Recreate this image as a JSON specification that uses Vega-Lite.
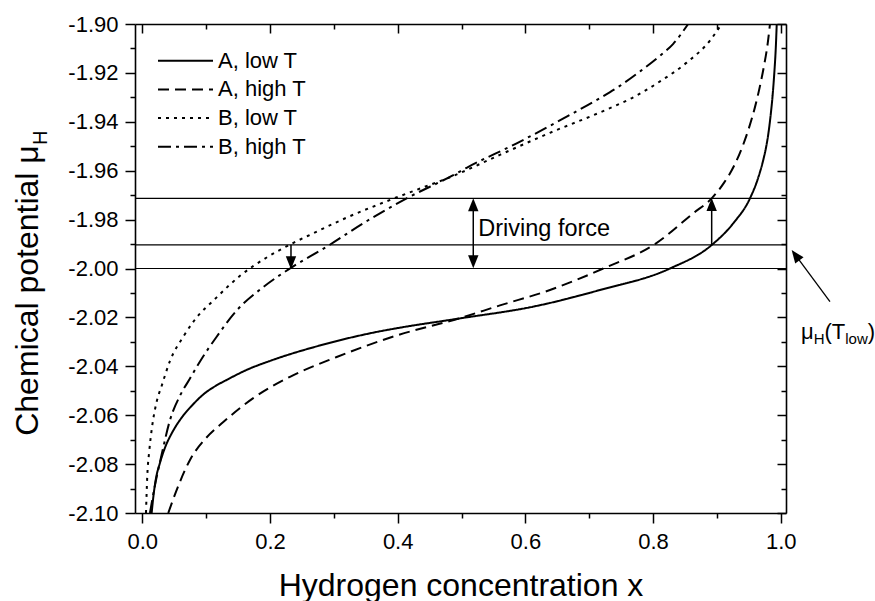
{
  "$schema": "https://vega.github.io/schema/vega-lite/v6.json",
  "autosize": {"type": "none"},
  "padding": {"left": 135, "top": 24, "right": 89, "bottom": 88},
  "width": 651,
  "height": 489,
  "background": "white",
  "config": {"view": {"stroke": null}, "font": "Liberation Sans"},
  "datasets": {
    "curves": [
      {"curve": "A, low T", "x": 0.0147, "mu": -2.1},
      {"curve": "A, low T", "x": 0.0175, "mu": -2.093},
      {"curve": "A, low T", "x": 0.021, "mu": -2.0865},
      {"curve": "A, low T", "x": 0.0277, "mu": -2.0795},
      {"curve": "A, low T", "x": 0.036, "mu": -2.073},
      {"curve": "A, low T", "x": 0.047, "mu": -2.067},
      {"curve": "A, low T", "x": 0.0617, "mu": -2.061},
      {"curve": "A, low T", "x": 0.078, "mu": -2.056},
      {"curve": "A, low T", "x": 0.0956, "mu": -2.0515},
      {"curve": "A, low T", "x": 0.115, "mu": -2.048},
      {"curve": "A, low T", "x": 0.132, "mu": -2.0456},
      {"curve": "A, low T", "x": 0.165, "mu": -2.0413},
      {"curve": "A, low T", "x": 0.2, "mu": -2.0378},
      {"curve": "A, low T", "x": 0.278, "mu": -2.0315},
      {"curve": "A, low T", "x": 0.372, "mu": -2.0257},
      {"curve": "A, low T", "x": 0.4036, "mu": -2.0242},
      {"curve": "A, low T", "x": 0.4976, "mu": -2.0204},
      {"curve": "A, low T", "x": 0.6124, "mu": -2.0156},
      {"curve": "A, low T", "x": 0.7168, "mu": -2.0088},
      {"curve": "A, low T", "x": 0.8265, "mu": -2.0},
      {"curve": "A, low T", "x": 0.8918, "mu": -1.9904},
      {"curve": "A, low T", "x": 0.9256, "mu": -1.9815},
      {"curve": "A, low T", "x": 0.9518, "mu": -1.9713},
      {"curve": "A, low T", "x": 0.9635, "mu": -1.9638},
      {"curve": "A, low T", "x": 0.9726, "mu": -1.9556},
      {"curve": "A, low T", "x": 0.9768, "mu": -1.9507},
      {"curve": "A, low T", "x": 0.9807, "mu": -1.9446},
      {"curve": "A, low T", "x": 0.9842, "mu": -1.9372},
      {"curve": "A, low T", "x": 0.9873, "mu": -1.929},
      {"curve": "A, low T", "x": 0.99, "mu": -1.9196},
      {"curve": "A, low T", "x": 0.9922, "mu": -1.9098},
      {"curve": "A, low T", "x": 0.9937, "mu": -1.9},
      {"curve": "A, high T", "x": 0.0407, "mu": -2.1},
      {"curve": "A, high T", "x": 0.0555, "mu": -2.0895},
      {"curve": "A, high T", "x": 0.0747, "mu": -2.0783},
      {"curve": "A, high T", "x": 0.1, "mu": -2.0693},
      {"curve": "A, high T", "x": 0.1269, "mu": -2.0628},
      {"curve": "A, high T", "x": 0.1738, "mu": -2.053},
      {"curve": "A, high T", "x": 0.2313, "mu": -2.0443},
      {"curve": "A, high T", "x": 0.3045, "mu": -2.0362},
      {"curve": "A, high T", "x": 0.3984, "mu": -2.0274},
      {"curve": "A, high T", "x": 0.4976, "mu": -2.0203},
      {"curve": "A, high T", "x": 0.5602, "mu": -2.0151},
      {"curve": "A, high T", "x": 0.6385, "mu": -2.0088},
      {"curve": "A, high T", "x": 0.722, "mu": -2.0},
      {"curve": "A, high T", "x": 0.803, "mu": -1.99},
      {"curve": "A, high T", "x": 0.863, "mu": -1.9774},
      {"curve": "A, high T", "x": 0.8918, "mu": -1.9713},
      {"curve": "A, high T", "x": 0.911, "mu": -1.965},
      {"curve": "A, high T", "x": 0.9267, "mu": -1.9581},
      {"curve": "A, high T", "x": 0.9392, "mu": -1.9507},
      {"curve": "A, high T", "x": 0.9502, "mu": -1.9425},
      {"curve": "A, high T", "x": 0.9596, "mu": -1.934},
      {"curve": "A, high T", "x": 0.9674, "mu": -1.9254},
      {"curve": "A, high T", "x": 0.9737, "mu": -1.9172},
      {"curve": "A, high T", "x": 0.9792, "mu": -1.9086},
      {"curve": "A, high T", "x": 0.9831, "mu": -1.9},
      {"curve": "B, low T", "x": 0.0058, "mu": -2.1},
      {"curve": "B, low T", "x": 0.0078, "mu": -2.085},
      {"curve": "B, low T", "x": 0.011, "mu": -2.0745},
      {"curve": "B, low T", "x": 0.0147, "mu": -2.066},
      {"curve": "B, low T", "x": 0.0225, "mu": -2.0545},
      {"curve": "B, low T", "x": 0.03, "mu": -2.0483},
      {"curve": "B, low T", "x": 0.0434, "mu": -2.0378},
      {"curve": "B, low T", "x": 0.0642, "mu": -2.0279},
      {"curve": "B, low T", "x": 0.0799, "mu": -2.0218},
      {"curve": "B, low T", "x": 0.1165, "mu": -2.0118},
      {"curve": "B, low T", "x": 0.153, "mu": -2.003},
      {"curve": "B, low T", "x": 0.1948, "mu": -1.9955},
      {"curve": "B, low T", "x": 0.233, "mu": -1.99},
      {"curve": "B, low T", "x": 0.2678, "mu": -1.9856},
      {"curve": "B, low T", "x": 0.32, "mu": -1.9792},
      {"curve": "B, low T", "x": 0.3827, "mu": -1.9725},
      {"curve": "B, low T", "x": 0.435, "mu": -1.9673},
      {"curve": "B, low T", "x": 0.4819, "mu": -1.9627},
      {"curve": "B, low T", "x": 0.5602, "mu": -1.9535},
      {"curve": "B, low T", "x": 0.6385, "mu": -1.9445},
      {"curve": "B, low T", "x": 0.7273, "mu": -1.935},
      {"curve": "B, low T", "x": 0.769, "mu": -1.93},
      {"curve": "B, low T", "x": 0.8108, "mu": -1.9235},
      {"curve": "B, low T", "x": 0.8526, "mu": -1.9158},
      {"curve": "B, low T", "x": 0.8891, "mu": -1.9068},
      {"curve": "B, low T", "x": 0.9074, "mu": -1.9},
      {"curve": "B, high T", "x": 0.012, "mu": -2.1},
      {"curve": "B, high T", "x": 0.02, "mu": -2.0885},
      {"curve": "B, high T", "x": 0.03, "mu": -2.0765},
      {"curve": "B, high T", "x": 0.0434, "mu": -2.062},
      {"curve": "B, high T", "x": 0.0591, "mu": -2.052},
      {"curve": "B, high T", "x": 0.0747, "mu": -2.045},
      {"curve": "B, high T", "x": 0.0904, "mu": -2.038},
      {"curve": "B, high T", "x": 0.1165, "mu": -2.0279},
      {"curve": "B, high T", "x": 0.1478, "mu": -2.0172},
      {"curve": "B, high T", "x": 0.1895, "mu": -2.0076},
      {"curve": "B, high T", "x": 0.2313, "mu": -2.0},
      {"curve": "B, high T", "x": 0.2888, "mu": -1.9911},
      {"curve": "B, high T", "x": 0.3461, "mu": -1.9815},
      {"curve": "B, high T", "x": 0.4141, "mu": -1.9713},
      {"curve": "B, high T", "x": 0.4871, "mu": -1.9618},
      {"curve": "B, high T", "x": 0.508, "mu": -1.9588},
      {"curve": "B, high T", "x": 0.5864, "mu": -1.9488},
      {"curve": "B, high T", "x": 0.6647, "mu": -1.9379},
      {"curve": "B, high T", "x": 0.7168, "mu": -1.9303},
      {"curve": "B, high T", "x": 0.748, "mu": -1.9253},
      {"curve": "B, high T", "x": 0.7795, "mu": -1.9194},
      {"curve": "B, high T", "x": 0.8108, "mu": -1.913},
      {"curve": "B, high T", "x": 0.8316, "mu": -1.9081},
      {"curve": "B, high T", "x": 0.855, "mu": -1.9}
    ],
    "levels": [{"mu": -1.9713}, {"mu": -1.9903}, {"mu": -2.0}],
    "shafts": [
      {"x": 0.5184, "mu": -1.974, "mu2": -1.9973},
      {"x": 0.8918, "mu": -1.9903, "mu2": -1.974},
      {"x": 0.2329, "mu": -1.9903, "mu2": -1.9975}
    ],
    "headsUp": [{"x": 0.5184, "mu": -1.97395}, {"x": 0.8918, "mu": -1.97382}],
    "headsDown": [{"x": 0.5184, "mu": -1.99726}, {"x": 0.2329, "mu": -1.99767}],
    "pointer": [{"x": 1.07706, "mu": -2.01358, "x2": 1.02313, "mu2": -1.99457}],
    "bigText": [
      {"t": "μ", "x": 1.0316, "mu": -2.0288},
      {"t": "(T", "x": 1.0684, "mu": -2.0288},
      {"t": ")", "x": 1.1363, "mu": -2.0288}
    ],
    "smallText": [
      {"t": "H", "x": 1.0515, "mu": -2.0309},
      {"t": "low", "x": 1.101, "mu": -2.0309}
    ],
    "label": [{"t": "Driving force", "x": 0.5262, "mu": -1.98671}],
    "ysub": [{"t": "H", "x": -0.1493, "mu": -1.9495}]
  },
  "layer": [
    {
      "data": {"name": "levels"},
      "mark": {"type": "rule", "color": "black", "strokeWidth": 1.2},
      "encoding": {
        "y": {
          "field": "mu", "type": "quantitative",
          "scale": {"domain": [-2.1, -1.9], "nice": false, "zero": false},
          "axis": {
            "orient": "right", "labels": false, "title": null, "grid": false,
            "values": [-2.1, -2.09, -2.08, -2.07, -2.06, -2.05, -2.04, -2.03, -2.02, -2.01, -2.0, -1.99, -1.98, -1.97, -1.96, -1.95, -1.94, -1.93, -1.92, -1.91, -1.9],
            "tickSize": {"condition": {"test": "abs(round(datum.value*100)) % 2 == 0", "value": -9}, "value": -5},
            "domainColor": "black", "domainWidth": 1.6, "tickColor": "black", "tickWidth": 1.5
          }
        }
      }
    },
    {
      "data": {"name": "curves"},
      "mark": {"type": "line", "color": "black", "strokeWidth": 2, "interpolate": "monotone", "clip": true},
      "encoding": {
        "x": {
          "field": "x", "type": "quantitative",
          "scale": {"domain": [-0.0114, 1.0082], "nice": false, "zero": false},
          "axis": {
            "orient": "bottom", "grid": false,
            "values": [0, 0.1, 0.2, 0.3, 0.4, 0.5, 0.6, 0.7, 0.8, 0.9, 1.0],
            "labelExpr": "round(datum.value*10) % 2 == 0 ? format(datum.value, '.1f') : ''",
            "tickSize": {"condition": {"test": "round(datum.value*10) % 2 == 0", "value": 10}, "value": 5},
            "labelFont": "Liberation Sans", "labelFontSize": 22, "labelColor": "black", "labelPadding": 8,
            "labelOverlap": false, "labelFlush": false, "labelBound": false,
            "domainColor": "black", "domainWidth": 1.6, "tickColor": "black", "tickWidth": 1.5,
            "title": "Hydrogen concentration x", "titleFont": "Liberation Sans", "titleFontSize": 32,
            "titleFontWeight": "normal", "titleColor": "black", "titlePadding": 18
          }
        },
        "y": {
          "field": "mu", "type": "quantitative",
          "axis": {
            "orient": "left", "grid": false,
            "values": [-2.1, -2.09, -2.08, -2.07, -2.06, -2.05, -2.04, -2.03, -2.02, -2.01, -2.0, -1.99, -1.98, -1.97, -1.96, -1.95, -1.94, -1.93, -1.92, -1.91, -1.9],
            "labelExpr": "abs(round(datum.value*100)) % 2 == 0 ? '-' + format(-datum.value, '.2f') : ''",
            "tickSize": {"condition": {"test": "abs(round(datum.value*100)) % 2 == 0", "value": 10}, "value": 5},
            "labelFont": "Liberation Sans", "labelFontSize": 22, "labelColor": "black", "labelPadding": 7,
            "labelOverlap": false, "labelFlush": false, "labelBound": false,
            "domainColor": "black", "domainWidth": 1.6, "tickColor": "black", "tickWidth": 1.5,
            "title": "Chemical potential μ", "titleFont": "Liberation Sans", "titleFontSize": 32,
            "titleFontWeight": "normal", "titleColor": "black", "titlePadding": 23, "titleY": 266
          }
        },
        "strokeDash": {
          "field": "curve", "type": "nominal",
          "scale": {
            "domain": ["A, low T", "A, high T", "B, low T", "B, high T"],
            "range": [[1, 0], [11, 6], [3, 5], [13, 5, 3, 5]]
          },
          "legend": {
            "orient": "none", "legendX": 39.5, "legendY": 25.7, "title": null, "padding": 0,
            "symbolType": "M-5,0L5,0", "symbolSize": 121, "symbolStrokeWidth": 2,
            "symbolStrokeColor": "black", "symbolFillColor": "transparent", "symbolOffset": 0,
            "labelFont": "Liberation Sans", "labelFontSize": 22, "labelColor": "black",
            "labelOffset": 21.5, "rowPadding": 6.7
          }
        }
      }
    },
    {
      "data": {"name": "shafts"},
      "mark": {"type": "rule", "color": "black", "strokeWidth": 1.5},
      "encoding": {
        "x": {
          "field": "x", "type": "quantitative",
          "axis": {
            "orient": "top", "labels": false, "title": null, "grid": false,
            "values": [0, 0.1, 0.2, 0.3, 0.4, 0.5, 0.6, 0.7, 0.8, 0.9, 1.0],
            "tickSize": {"condition": {"test": "round(datum.value*10) % 2 == 0", "value": -9}, "value": -5},
            "domainColor": "black", "domainWidth": 1.6, "tickColor": "black", "tickWidth": 1.5
          }
        },
        "y": {"field": "mu", "type": "quantitative", "axis": null},
        "y2": {"field": "mu2"}
      }
    },
    {
      "data": {"name": "headsUp"},
      "mark": {"type": "point", "shape": "M0,-1L-0.8,1L0.8,1Z", "filled": true, "size": 169, "color": "black", "opacity": 1, "strokeWidth": 0, "angle": 0},
      "encoding": {
        "x": {"field": "x", "type": "quantitative", "axis": null},
        "y": {"field": "mu", "type": "quantitative", "axis": null}
      }
    },
    {
      "data": {"name": "headsDown"},
      "mark": {"type": "point", "shape": "M0,-1L-0.8,1L0.8,1Z", "filled": true, "size": 169, "color": "black", "opacity": 1, "strokeWidth": 0, "angle": 180},
      "encoding": {
        "x": {"field": "x", "type": "quantitative", "axis": null},
        "y": {"field": "mu", "type": "quantitative", "axis": null}
      }
    },
    {
      "data": {"name": "pointer"},
      "mark": {"type": "rule", "color": "black", "strokeWidth": 1.3},
      "encoding": {
        "x": {"field": "x", "type": "quantitative", "axis": null},
        "y": {"field": "mu", "type": "quantitative", "axis": null},
        "x2": {"field": "x2"},
        "y2": {"field": "mu2"}
      }
    },
    {
      "data": {"name": "pointer"},
      "mark": {"type": "point", "shape": "M0,-1L-0.8,1L0.8,1Z", "filled": true, "size": 169, "color": "black", "opacity": 1, "strokeWidth": 0, "angle": 323.5},
      "encoding": {
        "x": {"field": "x2", "type": "quantitative", "axis": null},
        "y": {"field": "mu2", "type": "quantitative", "axis": null}
      }
    },
    {
      "data": {"name": "label"},
      "mark": {"type": "text", "font": "Liberation Sans", "fontSize": 23.5, "align": "left", "baseline": "alphabetic", "color": "black"},
      "encoding": {
        "x": {"field": "x", "type": "quantitative", "axis": null},
        "y": {"field": "mu", "type": "quantitative", "axis": null},
        "text": {"field": "t"}
      }
    },
    {
      "data": {"name": "bigText"},
      "mark": {"type": "text", "font": "Liberation Sans", "fontSize": 22, "align": "left", "baseline": "alphabetic", "color": "black"},
      "encoding": {
        "x": {"field": "x", "type": "quantitative", "axis": null},
        "y": {"field": "mu", "type": "quantitative", "axis": null},
        "text": {"field": "t"}
      }
    },
    {
      "data": {"name": "smallText"},
      "mark": {"type": "text", "font": "Liberation Sans", "fontSize": 15, "align": "left", "baseline": "alphabetic", "color": "black"},
      "encoding": {
        "x": {"field": "x", "type": "quantitative", "axis": null},
        "y": {"field": "mu", "type": "quantitative", "axis": null},
        "text": {"field": "t"}
      }
    },
    {
      "data": {"name": "ysub"},
      "mark": {"type": "text", "font": "Liberation Sans", "fontSize": 20, "align": "left", "baseline": "alphabetic", "color": "black", "angle": 270},
      "encoding": {
        "x": {"field": "x", "type": "quantitative", "axis": null},
        "y": {"field": "mu", "type": "quantitative", "axis": null},
        "text": {"field": "t"}
      }
    }
  ]
}
